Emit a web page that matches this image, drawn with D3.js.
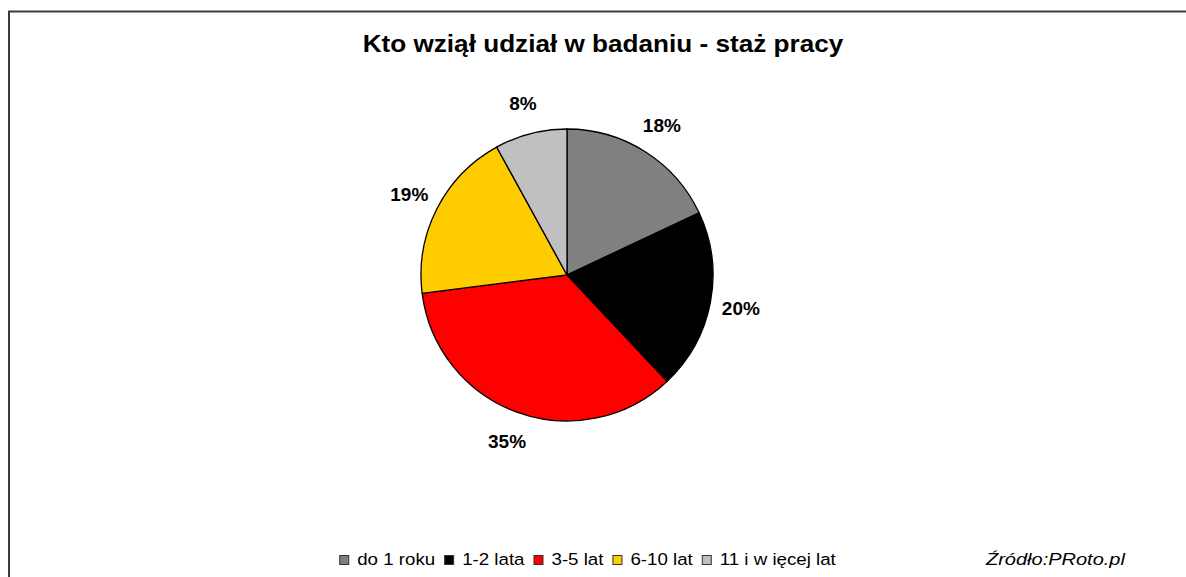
<!DOCTYPE html>
<html>
<head>
<meta charset="utf-8">
<script src="https://cdn.jsdelivr.net/npm/d3@7"></script>
<style>
  body { margin: 0; background: #fff; }
  text { font-family: "Liberation Sans", Arial, sans-serif; }
</style>
</head>
<body>
<svg id="Chart"></svg>
<script>
var categories = ["do 1 roku", "1-2 lata", "3-5 lat", "6-10 lat", "11 i w ięcej lat"]
var values = [18, 20, 35, 19, 8]
var colors = ["#808080", "#000000", "#ff0000", "#ffcc00", "#c0c0c0"]
var title = "Kto wziął udział w badaniu - staż pracy"
var source = "Źródło:PRoto.pl"

var dimensions = {
    width: 1186,
    height: 577,
    cx: 567,
    cy: 275,
    radius: 146
}

var svg = d3.select("#Chart")
            .attr("width", dimensions.width)
            .attr("height", dimensions.height)

// frame (only left and top edges are visible in the window)
svg.append("rect")
   .attr("x", 9)
   .attr("y", 11.5)
   .attr("width", 1400)
   .attr("height", 800)
   .attr("fill", "none")
   .attr("stroke", "#3a3a3a")
   .attr("stroke-width", 2)

// the original fonts are drawn a bit wider, so stretch text horizontally
var titleText = svg.append("text")
   .attr("text-anchor", "middle")
   .style("font-size", "23px")
   .style("font-weight", "bold")
   .text(title)
var titleScale = 481 / titleText.node().getComputedTextLength()
titleText.attr("transform", `translate(603,51.5) scale(${titleScale},1)`)

var pie = d3.pie().sort(null).value(d => d)
var arcs = pie(values)

var arc = d3.arc().innerRadius(0).outerRadius(dimensions.radius)
var labelArc = d3.arc().innerRadius(177).outerRadius(177)

var g = svg.append("g")
           .attr("transform", `translate(${dimensions.cx},${dimensions.cy})`)

g.selectAll(".slice")
 .data(arcs)
 .enter()
 .append("path")
 .attr("class", "slice")
 .attr("d", arc)
 .attr("fill", (d, i) => colors[i])
 .attr("stroke", "black")
 .attr("stroke-width", 1.3)

g.selectAll(".label")
 .data(arcs)
 .enter()
 .append("text")
 .attr("class", "label")
 .attr("transform", d => `translate(${labelArc.centroid(d)})`)
 .attr("text-anchor", "middle")
 .attr("dy", "0.36em")
 .style("font-size", "19px")
 .style("font-weight", "bold")
 .text(d => d.value + "%")

var stretch = 1.1
var legend = svg.append("g")
var lx = 0
categories.forEach((c, i) => {
    legend.append("rect")
          .attr("x", lx + 0.5)
          .attr("y", 555.5)
          .attr("width", 9)
          .attr("height", 9)
          .attr("fill", colors[i])
          .attr("stroke", "#333")
          .attr("stroke-width", 1)
    var t = legend.append("text")
                  .attr("transform", `translate(${lx + 18},564.5) scale(${stretch},1)`)
                  .style("font-size", "17px")
                  .text(c)
    var w = t.node().getComputedTextLength() * stretch
    lx += 18 + w + 9
})
var legendWidth = lx - 9
legend.attr("transform", `translate(${587.5 - legendWidth / 2},0)`)

var sourceText = svg.append("text")
   .style("font-size", "17px")
   .style("font-style", "italic")
   .text(source)
var sourceScale = 139 / sourceText.node().getComputedTextLength()
sourceText.attr("transform", `translate(986,564.5) scale(${sourceScale},1)`)
</script>
</body>
</html>
